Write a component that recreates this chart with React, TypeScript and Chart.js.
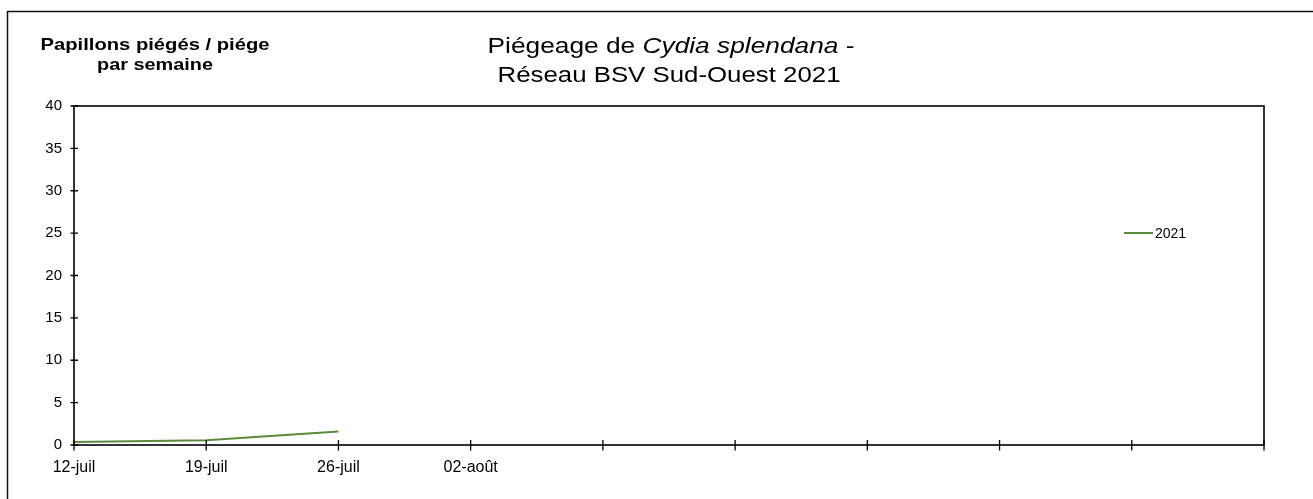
import React, { useEffect, useRef } from "react";
import { Chart, registerables } from "chart.js";

Chart.register(...registerables);

const categories = ["12-juil", "19-juil", "26-juil", "02-août", "", "", "", "", "", ""];
const series2021 = [0.35, 0.55, 1.6, null, null, null, null, null, null, null];
const seriesLabel = "2021";
const yMin = 0;
const yMax = 40;
const yStep = 5;
const titleLine1 = ["Piégeage de ", "Cydia splendana", " -"];
const titleLine2 = "Réseau BSV Sud-Ouest 2021";
const yLabelLines = ["Papillons piégés / piége", "par semaine"];

const FONT = '"Liberation Sans", Arial, sans-serif';
const GREEN = "#5b8a3a";

function drawFitted(
  ctx: CanvasRenderingContext2D,
  segs: { text: string; font: string }[],
  cx: number,
  baseline: number,
  targetWidth: number
) {
  let w = 0;
  const widths = segs.map((s) => {
    ctx.font = s.font;
    const m = ctx.measureText(s.text).width;
    w += m;
    return m;
  });
  const sx = targetWidth / w;
  ctx.save();
  ctx.translate(cx, baseline);
  ctx.scale(sx, 1);
  ctx.textBaseline = "alphabetic";
  ctx.textAlign = "left";
  ctx.fillStyle = "#000";
  let x = -w / 2;
  segs.forEach((s, i) => {
    ctx.font = s.font;
    ctx.fillText(s.text, x, 0);
    x += widths[i];
  });
  ctx.restore();
}

const decorPlugin = {
  id: "decor",
  afterDraw(chart: any) {
    const ctx: CanvasRenderingContext2D = chart.ctx;
    const { left, right, top, bottom } = chart.chartArea;
    const xs = chart.scales.x;
    const ys = chart.scales.y;
    ctx.save();
    // outer frame (top & left visible)
    ctx.strokeStyle = "#111";
    ctx.lineWidth = 1.5;
    ctx.beginPath();
    ctx.moveTo(7.5, chart.height + 2);
    ctx.lineTo(7.5, 11.5);
    ctx.lineTo(chart.width + 2, 11.5);
    ctx.stroke();

    // plot area border
    ctx.strokeStyle = "#000";
    ctx.lineWidth = 1.6;
    ctx.strokeRect(left, top, right - left, bottom - top);

    // y ticks crossing the axis
    ctx.lineWidth = 1.3;
    ctx.beginPath();
    for (let v = yMin; v <= yMax; v += yStep) {
      const y = ys.getPixelForValue(v);
      ctx.moveTo(left - 3.5, y);
      ctx.lineTo(left + 4, y);
    }
    // x ticks crossing the axis
    for (let i = 0; i < categories.length; i++) {
      const x = xs.getPixelForValue(i);
      ctx.moveTo(x, bottom - 5);
      ctx.lineTo(x, bottom + 5.5);
    }
    ctx.stroke();

    // title
    drawFitted(
      ctx,
      [
        { text: titleLine1[0], font: `22px ${FONT}` },
        { text: titleLine1[1], font: `italic 22px ${FONT}` },
        { text: titleLine1[2], font: `22px ${FONT}` },
      ],
      671,
      53,
      367
    );
    drawFitted(ctx, [{ text: titleLine2, font: `22px ${FONT}` }], 669, 82, 343);

    // y axis label
    drawFitted(ctx, [{ text: yLabelLines[0], font: `bold 17px ${FONT}` }], 155, 50, 229);
    drawFitted(ctx, [{ text: yLabelLines[1], font: `bold 17px ${FONT}` }], 155, 70, 116);

    // legend
    const ly = 233;
    const lx = right - 140;
    ctx.strokeStyle = GREEN;
    ctx.lineWidth = 2;
    ctx.beginPath();
    ctx.moveTo(lx, ly);
    ctx.lineTo(lx + 29, ly);
    ctx.stroke();
    ctx.fillStyle = "#000";
    ctx.font = `14px ${FONT}`;
    ctx.textAlign = "left";
    ctx.textBaseline = "alphabetic";
    ctx.fillText(seriesLabel, lx + 31, ly + 5);
    ctx.restore();
  },
};

export default function App() {
  const ref = useRef<HTMLCanvasElement | null>(null);
  useEffect(() => {
    if (!ref.current) return;
    const chart = new Chart(ref.current, {
      type: "line",
      data: {
        labels: categories,
        datasets: [
          {
            label: seriesLabel,
            data: series2021,
            borderColor: GREEN,
            backgroundColor: GREEN,
            borderWidth: 2,
            pointRadius: 0,
            tension: 0,
            spanGaps: false,
          },
        ],
      },
      options: {
        responsive: false,
        animation: false,
        devicePixelRatio: 1,
        layout: { padding: { left: 24, right: 49, top: 106, bottom: 14 } },
        plugins: {
          legend: { display: false },
          title: { display: false },
          tooltip: { enabled: false },
        },
        scales: {
          x: {
            type: "category",
            offset: false,
            grid: { display: false, drawTicks: false },
            border: { display: false },
            ticks: {
              autoSkip: false,
              maxRotation: 0,
              minRotation: 0,
              color: "#000",
              padding: 13,
              font: { family: FONT, size: 16 },
            },
            afterFit: (s: any) => {
              s.height = 40;
            },
          },
          y: {
            min: yMin,
            max: yMax,
            grid: { display: false, drawTicks: false },
            border: { display: false },
            ticks: {
              stepSize: yStep,
              color: "#000",
              padding: 12,
              font: { family: FONT, size: 15 },
            },
            afterFit: (s: any) => {
              s.width = 50;
            },
          },
        },
      },
      plugins: [decorPlugin],
    });
    return () => chart.destroy();
  }, []);
  return (
    <div style={{ position: "fixed", left: 0, top: 0, width: 1313, height: 499, background: "#fff" }}>
      <canvas ref={ref} width={1313} height={499} style={{ display: "block" }} />
    </div>
  );
}
